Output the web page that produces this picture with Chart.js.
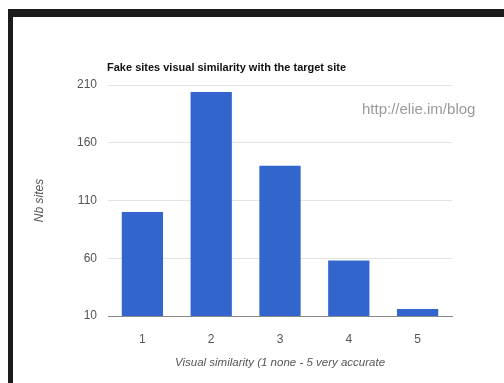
<!DOCTYPE html>
<html>
<head>
<meta charset="utf-8">
<title>Fake sites visual similarity</title>
<script src="https://cdn.jsdelivr.net/npm/chart.js@4/dist/chart.umd.min.js"></script>
<style>

    html, body{
        margin: 0;
        padding: 0;
        background: #ffffff;
        overflow: hidden;
    }

    .chart-box{
        position: relative;
        width: 504px;
        height: 383px;
    }

    .frame{
        position: absolute;
        left: 8px;
        top: 9px;
        right: 0;
        bottom: 0;
        border-top: 8px solid #1b1b1b;
        border-left: 5px solid #1b1b1b;
        pointer-events: none;
    }

</style>
</head>
<body>

<div class="chart-box">
    <canvas id="similarityChart" width="504" height="383"></canvas>
    <div class="frame"></div>
</div>

<script>

/* =========================
   DATA
========================= */

const categories = ["1", "2", "3", "4", "5"];

const nbSites = [100, 204, 140, 58, 16];

const yTicks = [10, 60, 110, 160, 210];

const chartTitle = "Fake sites visual similarity with the target site";

const watermark = "http://elie.im/blog";

/* =========================
   TEXT PLUGIN
========================= */

const textPlugin = {

    id: "textPlugin",

    afterDraw(chart){

        const ctx = chart.ctx;

        ctx.save();

        ctx.textBaseline = "middle";
        ctx.textAlign = "left";

        ctx.fillStyle = "#111111";
        ctx.font = "bold 11px 'Liberation Sans', Arial, sans-serif";
        ctx.fillText(chartTitle, 107, 68, 240);

        ctx.fillStyle = "#9a9a9a";
        ctx.font = "15px 'Liberation Sans', Arial, sans-serif";
        ctx.fillText(watermark, 362, 110);

        ctx.restore();

    }

};

/* =========================
   CHART
========================= */

document.addEventListener("DOMContentLoaded", () => {

    const ctx = document.getElementById("similarityChart");

    new Chart(ctx, {

        type: "bar",

        data: {

            labels: categories,

            datasets: [{

                label: "Nb sites",

                data: nbSites,

                backgroundColor: "#3366cc",

                borderWidth: 0,

                categoryPercentage: 1,

                barPercentage: 0.6

            }]

        },

        options: {

            responsive: false,

            animation: false,

            layout: {
                padding: { top: 85, right: 52, bottom: 0, left: 0 }
            },

            plugins: {

                legend: { display: false },

                tooltip: { enabled: false }

            },

            scales: {

                x: {

                    grid: { display: false },

                    border: { display: true, color: "#888888", width: 1 },

                    ticks: {
                        color: "#555555",
                        padding: 8,
                        font: { family: "'Liberation Sans', Arial, sans-serif", size: 12 }
                    },

                    title: {
                        display: true,
                        text: "Visual similarity (1 none - 5 very accurate",
                        color: "#555555",
                        padding: { top: 0, bottom: 13 },
                        font: { family: "'Liberation Sans', Arial, sans-serif", size: 11.5, style: "italic" }
                    },

                    afterFit(scale){
                        scale.height = 67;
                    }

                },

                y: {

                    min: yTicks[0],

                    max: yTicks[yTicks.length - 1],

                    afterBuildTicks(scale){
                        scale.ticks = yTicks.map(v => ({ value: v }));
                    },

                    grid: {
                        color: "#e3e3e3",
                        drawTicks: false
                    },

                    border: { display: false },

                    ticks: {
                        color: "#555555",
                        padding: 11,
                        font: { family: "'Liberation Sans', Arial, sans-serif", size: 12 }
                    },

                    title: {
                        display: true,
                        text: "Nb sites",
                        color: "#555555",
                        padding: { top: 32, bottom: 0 },
                        font: { family: "'Liberation Sans', Arial, sans-serif", size: 12, style: "italic" }
                    },

                    afterFit(scale){
                        scale.width = 108;
                    }

                }

            }

        },

        plugins: [textPlugin]

    });

});

</script>

</body>
</html>
